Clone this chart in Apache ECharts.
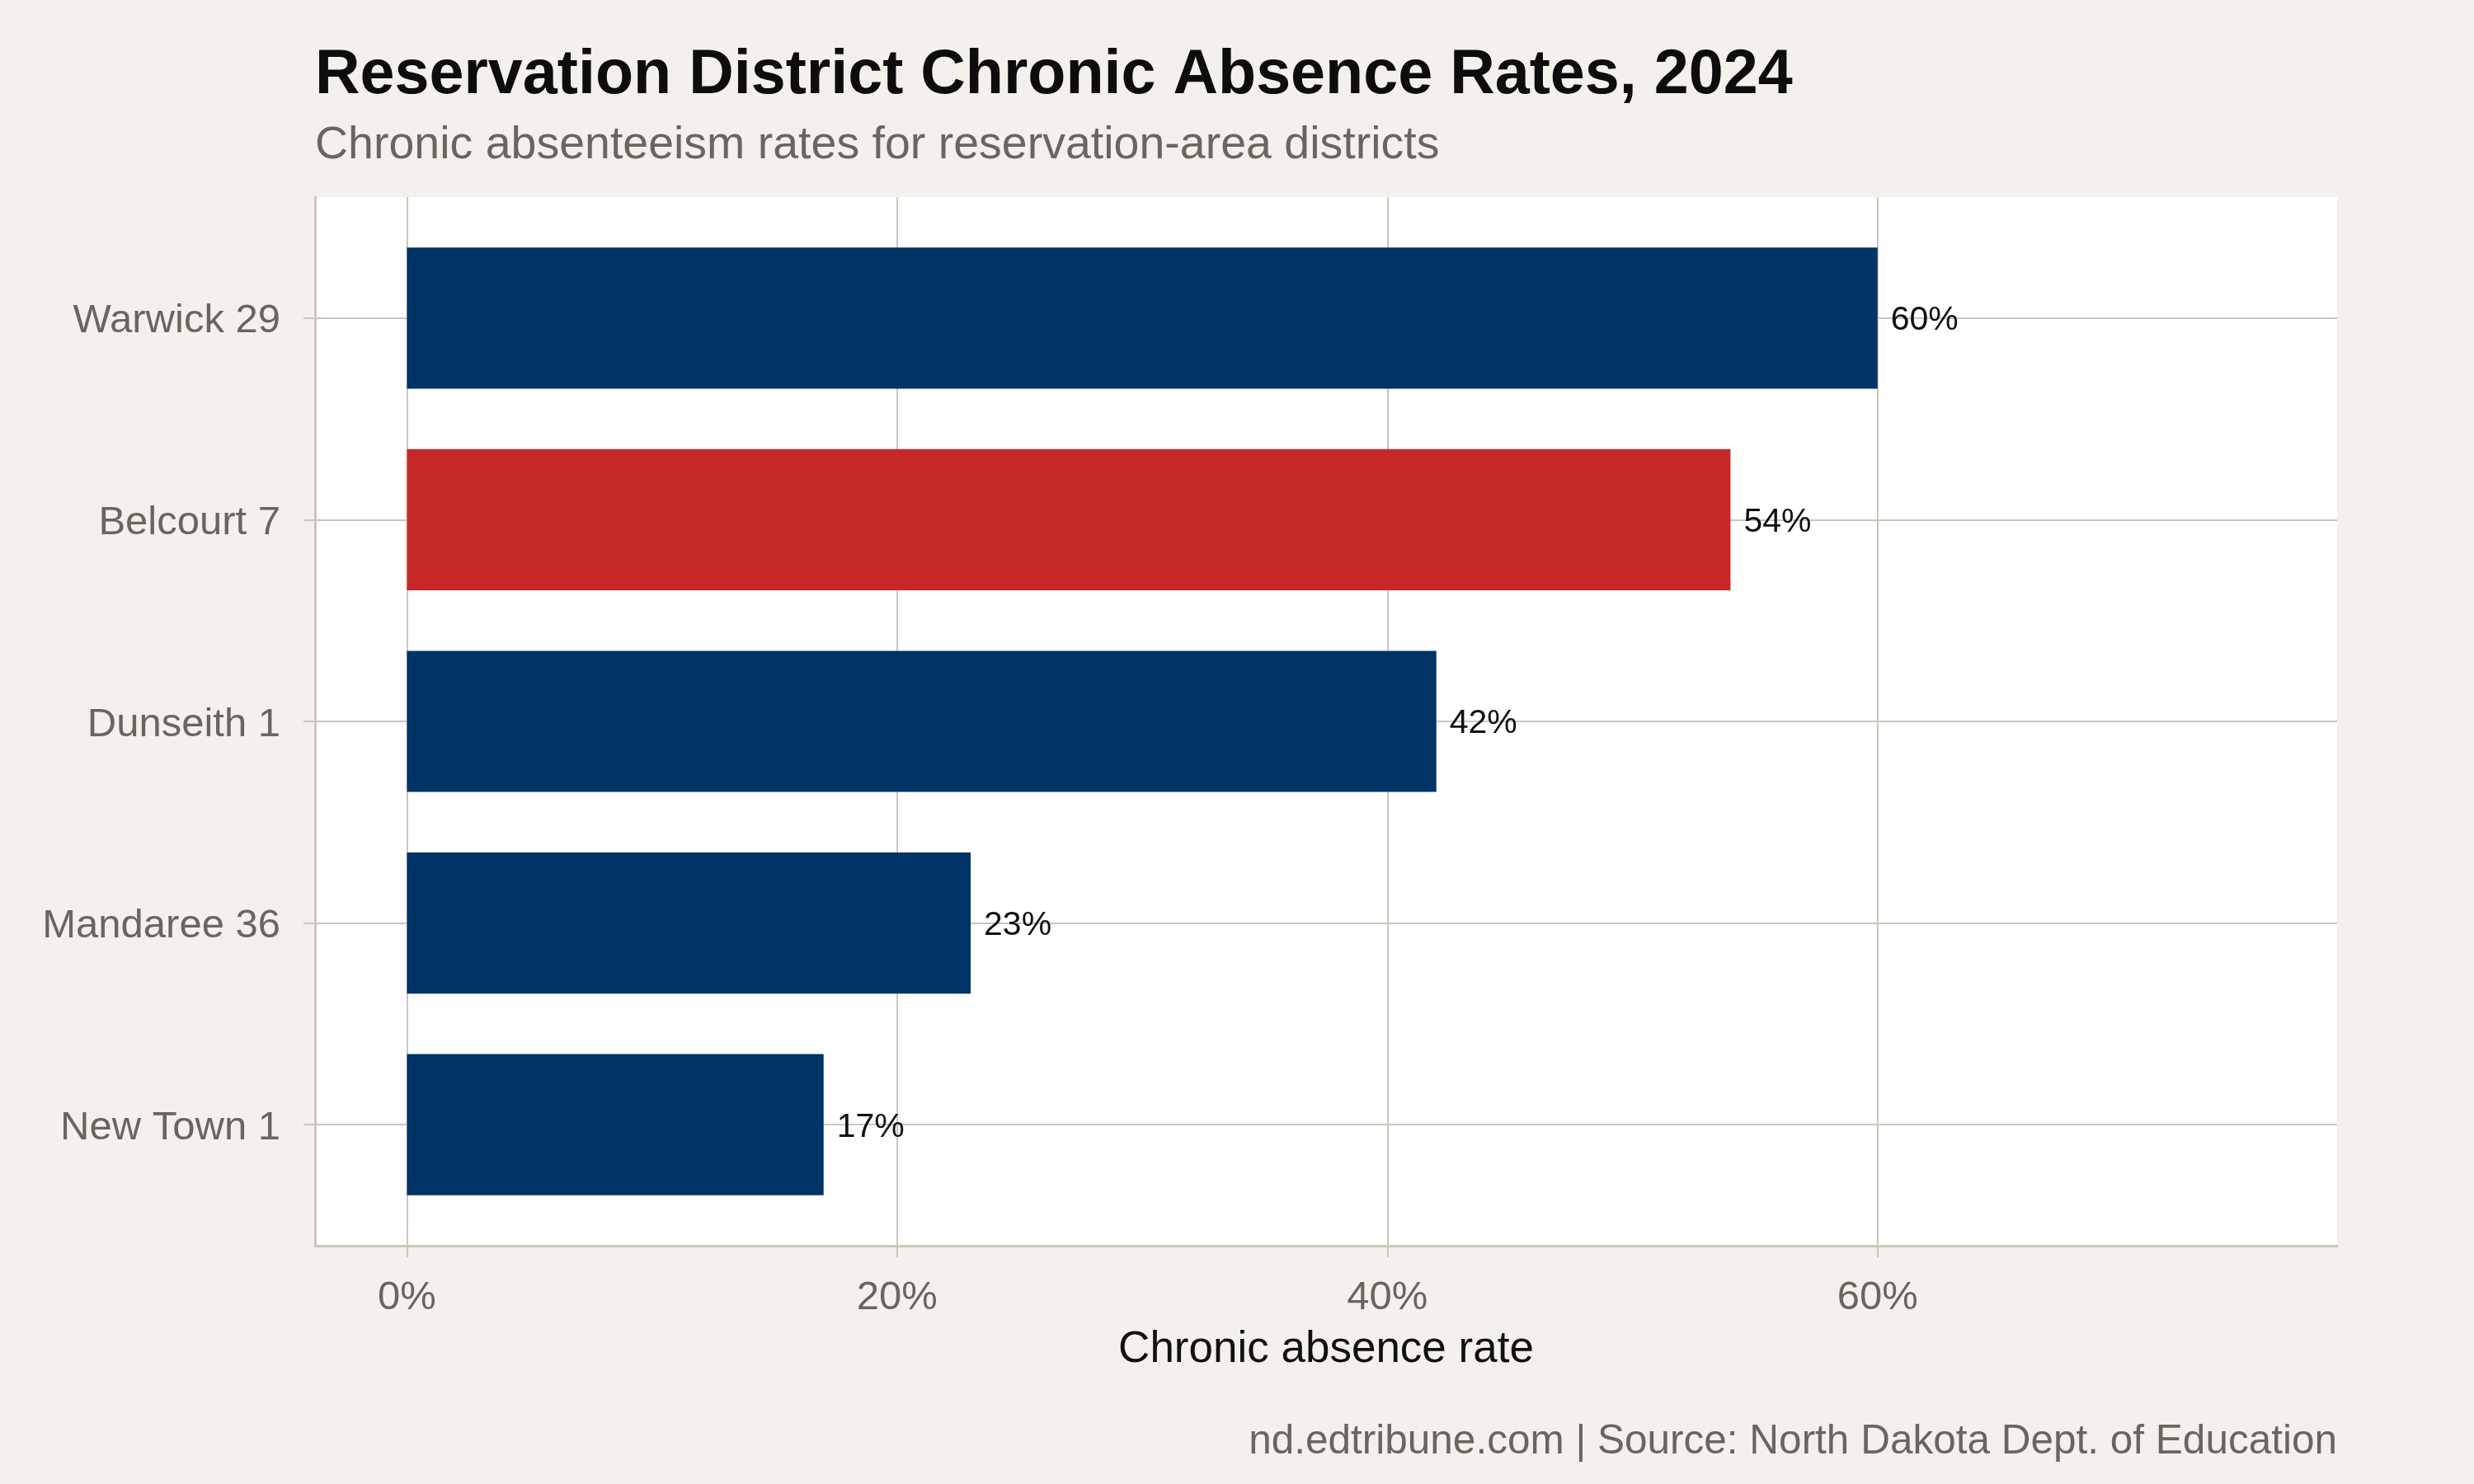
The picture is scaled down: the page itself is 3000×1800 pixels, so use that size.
<!DOCTYPE html>
<html>
<head>
<meta charset="utf-8">
<title>Reservation District Chronic Absence Rates, 2024</title>
<script src="https://cdn.jsdelivr.net/npm/echarts@6/dist/echarts.min.js"></script>
<style>
  html, body { margin: 0; padding: 0; background: #f4f1ec; }
  #chart { width: 3000px; height: 1800px; }
</style>
</head>
<body>
<div id="chart"></div>
<script>
// data
var districts = ['Warwick 29', 'Belcourt 7', 'Dunseith 1', 'Mandaree 36', 'New Town 1'];
var rates = [60, 54, 42, 23, 17];
var highlighted = ['Belcourt 7'];
var xTicks = [0, 20, 40, 60];

var FONT = '"Liberation Sans", Arial, Helvetica, sans-serif';
var NAVY = '#003366';
var RED = '#c62828';
var GRID = '#cdc6bd';
var GREY = '#6b6560';

var chart = echarts.init(document.getElementById('chart'), null, { renderer: 'canvas' });

var yIdx = districts.map(function (d, i) { return i; });

chart.setOption({
    backgroundColor: '#f4f1ec',
    animation: false,
    textStyle: { fontFamily: FONT },
    grid: {
        left: 382, right: 166, top: 239, bottom: 289,
        show: true, backgroundColor: '#ffffff', borderWidth: 0
    },
    xAxis: {
        type: 'value',
        min: -3.75,
        max: 78.75,
        axisLine: { show: true, onZero: false, lineStyle: { color: GRID, width: 3 } },
        axisTick: { show: true, length: 14, customValues: xTicks, lineStyle: { color: GRID, width: 2 } },
        axisLabel: {
            customValues: xTicks,
            formatter: function (v) { return v + '%'; },
            color: GREY, fontSize: 49, fontFamily: FONT, margin: 39
        },
        splitLine: { show: true, lineStyle: { color: GRID, width: 2 } }
    },
    yAxis: {
        type: 'value',
        inverse: true,
        min: -0.6,
        max: districts.length - 0.4,
        axisLine: { show: true, onZero: false, lineStyle: { color: GRID, width: 3 } },
        axisTick: { show: true, length: 14, customValues: yIdx, lineStyle: { color: GRID, width: 2 } },
        axisLabel: {
            customValues: yIdx,
            formatter: function (v) { return '{d|' + districts[v] + '}'; },
            margin: 42,
            rich: {
                d: { color: GREY, fontSize: 49, fontFamily: FONT, padding: [8, 0, 0, 0] }
            }
        },
        splitLine: { show: true, lineStyle: { color: GRID, width: 2 } }
    },
    series: [{
        type: 'custom',
        encode: { x: 0, y: 1 },
        data: rates.map(function (v, i) { return [v, i]; }),
        renderItem: function (params, api) {
            var val = api.value(0), idx = api.value(1);
            var start = api.coord([0, idx]);
            var end = api.coord([val, idx]);
            var h = Math.abs(api.size([0, 1])[1]) * 0.7;
            var fill = highlighted.indexOf(districts[idx]) >= 0 ? RED : NAVY;
            return {
                type: 'group',
                children: [{
                    type: 'rect',
                    shape: { x: start[0], y: start[1] - h / 2, width: end[0] - start[0], height: h },
                    style: { fill: fill }
                }, {
                    type: 'text',
                    x: end[0] + 16,
                    y: end[1] + 3,
                    style: {
                        text: val + '%', fill: '#111111',
                        font: '41px ' + FONT,
                        align: 'left', verticalAlign: 'middle'
                    }
                }]
            };
        }
    }],
    graphic: [{
        type: 'text', x: 382, y: 92,
        style: { text: 'Reservation District Chronic Absence Rates, 2024', fill: '#0d0d0d',
                 font: 'bold 75.5px ' + FONT, align: 'left', verticalAlign: 'middle' }
    }, {
        type: 'text', x: 382, y: 177,
        style: { text: 'Chronic absenteeism rates for reservation-area districts', fill: GREY,
                 font: '55.5px ' + FONT, align: 'left', verticalAlign: 'middle' }
    }, {
        type: 'text', x: 1608, y: 1637,
        style: { text: 'Chronic absence rate', fill: '#111111',
                 font: '53px ' + FONT, align: 'center', verticalAlign: 'middle' }
    }, {
        type: 'text', x: 2834, y: 1749,
        style: { text: 'nd.edtribune.com | Source: North Dakota Dept. of Education', fill: GREY,
                 font: '49.5px ' + FONT, align: 'right', verticalAlign: 'middle' }
    }]
});
</script>
</body>
</html>
